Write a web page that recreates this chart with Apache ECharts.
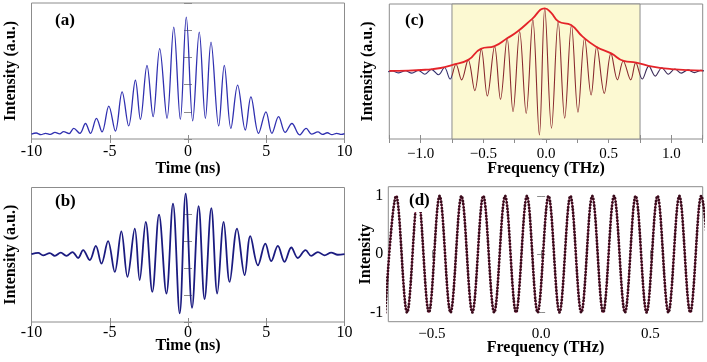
<!DOCTYPE html>
<html><head><meta charset="utf-8">
<script src="https://cdn.jsdelivr.net/npm/echarts@6/dist/echarts.min.js"></script>
<style>html,body{margin:0;padding:0;background:#fff}#c{width:707px;height:362px}</style>
</head><body><div id="c"></div>
<script>
const aTime = [-10.0,-9.7,-9.4,-9.1,-8.8,-8.5,-8.2,-7.95,-7.6,-7.30,-6.91,-6.55,-6.23,-5.85,-5.49,-5.06,-4.64,-4.21,-3.79,-3.36,-3.04,-2.62,-2.23,-1.81,-1.34,-0.91,-0.49,-0.11,0.30,0.72,1.11,1.47,1.96,2.32,2.74,3.17,3.66,4.02,4.51,4.98,5.36,5.79,6.21,6.64,7.13,7.55,7.9,8.3,8.6,8.9,9.2,9.5,9.8,10.0];
const aInt  = [0.18,0.22,0.16,0.21,0.17,0.24,0.19,0.27,0.20,0.39,0.21,0.57,0.21,0.76,0.26,1.21,0.29,1.73,0.48,2.16,0.72,2.71,0.82,3.32,0.76,4.11,0.72,4.48,0.67,3.93,0.76,3.56,0.48,2.71,0.39,1.98,0.33,1.55,0.21,1.00,0.21,0.82,0.24,0.57,0.15,0.39,0.18,0.26,0.17,0.23,0.16,0.21,0.17,0.20];
// ---------- (b) simulated interferogram
const bTime = [-10.0,-9.57,-9.26,-8.83,-8.51,-8.13,-7.77,-7.38,-7.02,-6.70,-6.28,-5.89,-5.53,-5.11,-4.68,-4.26,-3.87,-3.40,-3.09,-2.70,-2.28,-1.85,-1.38,-0.96,-0.53,-0.15,0.26,0.68,1.06,1.49,1.87,2.28,2.66,3.13,3.62,3.98,4.47,4.94,5.32,5.74,6.17,6.60,7.02,7.51,7.87,8.30,8.72,9.15,9.57,10.0];
const bInt  = [2.52,2.57,2.48,2.56,2.46,2.58,2.46,2.60,2.38,2.67,2.30,2.83,2.17,3.01,1.86,3.37,1.68,3.47,1.56,3.72,1.12,3.99,1.06,4.40,0.32,4.77,0.53,4.31,0.85,4.23,1.06,3.72,1.49,3.47,1.74,3.19,2.11,2.91,2.26,2.83,2.24,2.77,2.38,2.67,2.46,2.60,2.48,2.58,2.50,2.52];
// ---------- (c) frequency-domain trace and its envelope
const cFreq = [-1.278,-1.226,-1.174,-1.122,-1.07,-1.018,-0.966,-0.914,-0.858,-0.81,-0.765,-0.718,-0.673,-0.621,-0.568,-0.516,-0.468,-0.41,-0.363,-0.31,-0.263,-0.21,-0.158,-0.105,-0.053,-0.010,0.044,0.097,0.149,0.203,0.255,0.308,0.36,0.405,0.465,0.518,0.57,0.616,0.676,0.716,0.768,0.82,0.872,0.924,0.976,1.028,1.08,1.132,1.184,1.236,1.288];
const cOsc  = [2.46,2.52,2.45,2.53,2.44,2.54,2.40,2.58,2.38,2.65,2.22,2.77,2.19,2.93,1.79,3.33,1.59,3.43,1.47,3.73,1.01,3.98,0.95,4.42,0.15,4.84,0.40,4.34,0.77,4.22,0.99,3.74,1.63,3.42,1.69,3.17,2.19,2.89,2.19,2.83,2.22,2.70,2.33,2.64,2.40,2.59,2.44,2.56,2.46,2.54,2.48];
const eFreq = [-1.25,-1.10,-0.95,-0.84,-0.75,-0.62,-0.52,-0.41,-0.31,-0.23,-0.11,-0.01,0.04,0.10,0.20,0.29,0.40,0.52,0.62,0.72,0.85,1.00,1.25];
const eVal  = [2.52,2.53,2.57,2.63,2.74,2.93,3.34,3.44,3.73,3.97,4.45,4.84,4.68,4.35,4.22,3.80,3.42,3.17,2.89,2.83,2.68,2.59,2.53];
const shaded = [-0.75, 0.75];
// ---------- (d) normalised interference signal (extrema)
const dFreq = [-0.714,-0.664,-0.614,-0.564,-0.514,-0.465,-0.415,-0.365,-0.315,-0.265,-0.215,-0.165,-0.115,-0.065,-0.016,0.034,0.084,0.134,0.184,0.234,0.284,0.334,0.384,0.433,0.483,0.533,0.583,0.633,0.683,0.733,0.783];
const dVal  = [-1,1,-1,1,-1,1,-1,1,-1,1,-1,1,-1,1,-1,1,-1,1,-1,1,-1,1,-1,1,-1,1,-1,1,-1,1,-1];
// ---------- tick labels
const timeTicks = [-10,-5,0,5,10];
const timeTickLabels = ['-10','-5','0','5','10'];
const cTicks = [-1,-0.5,0,0.5,1];
const cTickLabels = ['\u22121.0','\u22120.5','0.0','0.5','1.0'];
const cTickMarks = [-1.25,-1,-0.75,-0.5,-0.25,0,0.25,0.5,0.75,1,1.25];
const dTicks = [-0.5,0,0.5];
const dTickLabels = ['\u22120.5','0.0','0.5'];
const dYTicks = [-1,0,1];
const dYTickLabels = ['-1','0','1'];

const pairs = (xs, ys) => xs.slice(0, Math.min(xs.length, ys.length)).map((x, i) => [x, ys[i]]);
const lab = (ticks, labels) => v => { const i = ticks.findIndex(t => Math.abs(t - v) < 1e-9); return i < 0 ? '' : labels[i]; };

const serif = '"Liberation Serif","Times New Roman",serif';
const gray = '#8c8c8c';
const tick = (extra) => Object.assign({show:true, inside:true, length:4, lineStyle:{color:gray, width:1}}, extra || {});
const nameStyle = {fontFamily:serif, fontWeight:'bold', fontSize:16, color:'#000'};

function xPair(g, min, max, cfg) {
  const bottom = {
    gridIndex:g, type:'value', position:'bottom', min, max,
    axisLine:{show:false}, splitLine:{show:false},
    axisTick: tick({customValues: cfg.tickValues || cfg.labelValues}),
    axisLabel:{show:true, customValues: cfg.labelValues, formatter: lab(cfg.labelValues, cfg.labels),
      fontFamily:serif, fontSize:cfg.fs, color:'#000', margin:cfg.margin},
    name:cfg.name, nameLocation:'middle', nameGap:cfg.nameGap, nameMoveOverlap:false, nameTextStyle:nameStyle
  };
  const top = {
    gridIndex:g, type:'value', position:'top', min, max,
    axisLine:{show:false}, splitLine:{show:false},
    axisTick: tick({customValues: cfg.tickValues || cfg.labelValues}),
    axisLabel:{show:false}
  };
  return [bottom, top];
}
function yPair(g, min, max, cfg) {
  const left = {
    gridIndex:g, type:'value', position:'left', min, max,
    axisLine:{show:false}, splitLine:{show:false},
    axisTick: tick({customValues: cfg.tickValues}),
    axisLabel: cfg.labels ? {show:true, customValues: cfg.tickValues, formatter: lab(cfg.tickValues, cfg.labels),
      fontFamily:serif, fontSize:16, color:'#000', margin:5} : {show:false},
    name:cfg.name, nameLocation:'middle', nameRotate:90, nameGap:cfg.nameGap, nameMoveOverlap:false, nameTextStyle:nameStyle
  };
  const right = {
    gridIndex:g, type:'value', position:'right', min, max,
    axisLine:{show:false}, splitLine:{show:false},
    axisTick: tick({customValues: cfg.tickValues}), axisLabel:{show:false}
  };
  return [left, right];
}

const y5 = [0,1,2,3,4,5];
const option = {
  animation:false,
  backgroundColor:'#fff',
  textStyle:{fontFamily:serif},
  grid:[
    {left:31.5, top:3, width:313, height:136},
    {left:31.5, top:187.5, width:313, height:134.5},
    {left:389.3, top:4, width:313.4, height:135},
    {left:388.3, top:186.7, width:314.4, height:135}
  ].map(g => Object.assign(g, {show:true, borderColor:gray, borderWidth:1, backgroundColor:'transparent'})),
  xAxis:[].concat(
    xPair(0, -10, 10, {labelValues:timeTicks, labels:timeTickLabels, fs:16, margin:5, name:'Time (ns)', nameGap:22}),
    xPair(1, -10, 10, {labelValues:timeTicks, labels:timeTickLabels, fs:16, margin:3, name:'Time (ns)', nameGap:16}),
    xPair(2, -1.25, 1.25, {labelValues:cTicks, labels:cTickLabels, tickValues:cTickMarks, fs:15, margin:8, name:'Frequency (THz)', nameGap:22}),
    xPair(3, -0.70, 0.74, {labelValues:dTicks, labels:dTickLabels, fs:15, margin:5, name:'Frequency (THz)', nameGap:18})
  ),
  yAxis:[].concat(
    yPair(0, 0, 5, {tickValues:y5, name:'Intensity (a.u.)', nameGap:13}),
    yPair(1, 0, 5, {tickValues:y5, name:'Intensity (a.u.)', nameGap:13}),
    yPair(2, 0, 5, {tickValues:y5, name:'Intensity (a.u.)', nameGap:13}),
    yPair(3, -1.16, 1.16, {tickValues:dYTicks, labels:dYTickLabels, name:'Intensity', nameGap:14})
  ),
  visualMap:[{
    type:'piecewise', show:false, seriesIndex:2, dimension:0,
    pieces:[{lt:shaded[0], color:'#34306e'},{gte:shaded[0], lte:shaded[1], color:'#8a2a2e'},{gt:shaded[1], color:'#3b2b58'}]
  }],
  series:[
    {type:'line', xAxisIndex:0, yAxisIndex:0, data:pairs(aTime, aInt), smooth:0.36, showSymbol:false,
      lineStyle:{color:'#3030b0', width:1.3}, z:3},
    {type:'line', xAxisIndex:2, yAxisIndex:2, data:pairs(bTime, bInt), smooth:0.36, showSymbol:false,
      lineStyle:{color:'#1b1b80', width:1.8}, z:3},
    {type:'line', xAxisIndex:4, yAxisIndex:4, data:pairs(cFreq, cOsc), smooth:0.36, showSymbol:false,
      lineStyle:{width:1.1}, z:3,
      markArea:{silent:true, itemStyle:{color:'#fcf9d2', borderColor:gray, borderWidth:1},
        data:[[{xAxis:shaded[0]},{xAxis:shaded[1]}]]}},
    {type:'line', xAxisIndex:4, yAxisIndex:4, data:pairs(eFreq, eVal), smooth:0.5, showSymbol:false,
      lineStyle:{color:'#e4242a', width:1.8}, z:4},
    {type:'line', xAxisIndex:6, yAxisIndex:6, data:pairs(dFreq, dVal), smooth:0.36, showSymbol:false,
      lineStyle:{color:'#c4346a', width:1.2}, z:3},
    {type:'line', xAxisIndex:6, yAxisIndex:6, data:pairs(dFreq, dVal), smooth:0.36, showSymbol:false,
      lineStyle:{color:'#3a0c1c', width:2.8, type:[0.1,3.1], cap:'round'}, z:4}
  ],
  graphic:[
    {type:'text', left:55, top:12, z:100, style:{text:'(a)', font:'bold 17px '+serif, fill:'#000'}},
    {type:'text', left:55, top:193, z:100, style:{text:'(b)', font:'bold 17px '+serif, fill:'#000'}},
    {type:'text', left:405, top:12, z:100, style:{text:'(c)', font:'bold 17px '+serif, fill:'#000'}},
    {type:'rect', left:406, top:193, z:99, shape:{width:25, height:19}, style:{fill:'#fff'}},
    {type:'text', left:409, top:192, z:100, style:{text:'(d)', font:'bold 17px '+serif, fill:'#000'}}
  ]
};
const chart = echarts.init(document.getElementById('c'), null, {renderer:'canvas'});
chart.setOption(option);
</script></body></html>
